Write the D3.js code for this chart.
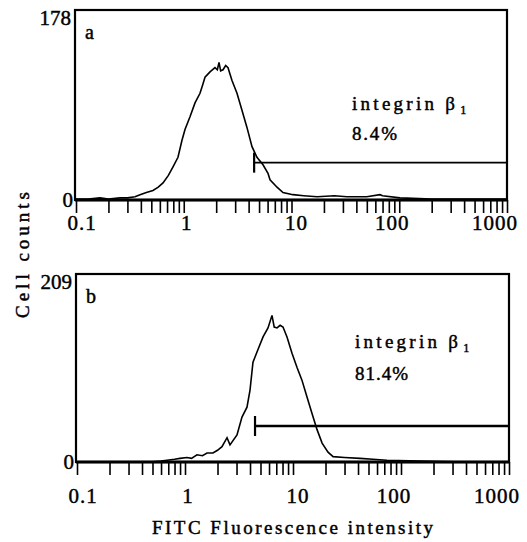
<!DOCTYPE html>
<html>
<head>
<meta charset="utf-8">
<script src="https://cdn.jsdelivr.net/npm/d3@7"></script>
<style>
  body { margin: 0; background: #fff; }
  svg { display: block; }
  text { fill: #000; stroke: #000; stroke-width: 0.45px; }
</style>
</head>
<body>
<svg id="chart"></svg>
<script>
// fluorescence intensity (log) and cell counts, panel a
const fluorA = [0.1, 0.13, 0.167, 0.2, 0.256, 0.3, 0.353, 0.393, 0.45, 0.518, 0.58, 0.642, 0.72, 0.795, 0.884, 0.963,
  1.027, 1.143, 1.272, 1.415, 1.5, 1.575, 1.752, 1.95, 2.05, 2.124, 2.2, 2.314, 2.45, 2.575, 2.804, 3.12, 3.47,
  3.86, 4.3, 4.78, 5.44, 6.05, 6.32, 7.34, 8.34, 10.3, 13, 17.3, 25, 32.7, 50, 66.2, 70, 101.6, 200, 296, 600, 1000];
const countA = [1, 1, 2, 1, 2, 2, 3, 5, 7, 9, 12, 16, 23, 31, 40, 56,
  66, 78, 91, 100, 108, 115, 120, 124, 122, 129, 121, 122, 126, 124, 112, 100, 84,
  68, 50, 40, 33, 25, 19, 12, 7, 5, 4, 3, 4, 3, 3, 5, 4, 2, 1, 1, 1, 1];

// panel b
const fluorB = [0.1, 0.474, 0.6, 0.681, 0.8, 0.899, 1.043, 1.15, 1.29, 1.45, 1.6, 1.815, 2.0, 2.2, 2.45, 2.61, 3.03, 3.37,
  3.75, 4.0, 4.26, 4.74, 5.28, 5.87, 6.39, 6.7, 7.11, 7.6, 8.08, 8.8, 9.79, 10.9, 12.1, 13.5, 15.0, 16.7,
  18.6, 21.1, 23.5, 30, 41.7, 55, 74.1, 150, 400, 1000];
const countB = [0, 0, 1, 2, 3, 4, 5, 4, 8, 7, 10, 10, 13, 17, 27, 19, 30, 50,
  61, 80, 111, 125, 139, 149, 163, 150, 149, 152, 150, 139, 121, 105, 91, 72, 54, 36,
  21, 11, 6, 5, 4, 3, 2, 1, 0, 0];

const panels = ['a', 'b'];
const yMax = [178, 209];
const positive = ['8.4%', '81.4%'];
const gateStart = [4.5, 4.45];
const gateLevel = [35, 40];
const gateEnd = 1000;

const xTicks = [0.1, 1, 10, 100, 1000];
const xTickLabels = ['0.1', '1', '10', '100', '1000'];

const W = 527, H = 542;
const svg = d3.select('#chart').attr('width', W).attr('height', H);

const boxes = [
  { left: 76, right: 507, top: 10, bottom: 200, labelY: 230 },
  { left: 77, right: 509, top: 274, bottom: 462, labelY: 503 }
];
const series = [
  fluorA.map((f, i) => ({ f, c: countA[i] })),
  fluorB.map((f, i) => ({ f, c: countB[i] }))
];
const labelShift = [6, 3, 5, -7, -12];
const serif = '"Liberation Serif", "DejaVu Serif", serif';

panels.forEach((name, p) => {
  const b = boxes[p];
  const x = d3.scaleLog().domain([0.1, 1000]).range([b.left, b.right]);
  const y = d3.scaleLinear().domain([0, yMax[p]]).range([b.bottom, b.top]);
  const g = svg.append('g');

  // minor + major ticks, all the same length
  const allTicks = [];
  for (let d = 0.1; d < 1000; d *= 10) {
    for (let k = 1; k < 10; k++) allTicks.push(+(d * k).toPrecision(3));
  }
  allTicks.push(1000);
  g.append('g')
    .attr('transform', `translate(0,${b.bottom})`)
    .call(d3.axisBottom(x).tickValues(allTicks).tickFormat('').tickSize(13).tickSizeOuter(0))
    .call(a => a.select('.domain').remove())
    .call(a => a.selectAll('line').attr('stroke', '#000').attr('stroke-width', 1.6));

  g.selectAll('.xl')
    .data(xTicks)
    .enter()
    .append('text')
    .attr('x', (d, i) => x(d) + labelShift[i])
    .attr('y', b.labelY)
    .attr('text-anchor', 'middle')
    .style('font-family', serif)
    .style('font-size', '21px')
    .style('letter-spacing', '1px')
    .text((d, i) => xTickLabels[i]);

  // y labels: max at top, 0 at bottom
  g.append('text')
    .attr('x', b.left - 5).attr('y', b.top + 15)
    .attr('text-anchor', 'end')
    .style('font-family', serif).style('font-size', '21px')
    .text(yMax[p]);
  g.append('text')
    .attr('x', b.left - 3).attr('y', b.bottom + 7)
    .attr('text-anchor', 'end')
    .style('font-family', serif).style('font-size', '21px')
    .text('0');

  // histogram
  const line = d3.line().x(d => x(d.f)).y(d => y(d.c));
  g.append('path')
    .datum(series[p])
    .attr('d', line)
    .attr('fill', 'none')
    .attr('stroke', '#000')
    .attr('stroke-width', 1.6);

  // marker gate
  const gx = x(gateStart[p]), gy = y(gateLevel[p]);
  g.append('line')
    .attr('x1', gx).attr('x2', x(gateEnd)).attr('y1', gy).attr('y2', gy)
    .attr('stroke', '#000').attr('stroke-width', p === 0 ? 1.8 : 2.6);
  g.append('line')
    .attr('x1', gx).attr('x2', gx).attr('y1', gy - 10).attr('y2', gy + 10)
    .attr('stroke', '#000').attr('stroke-width', 2.2);

  // frame
  g.append('rect')
    .attr('x', b.left - 1).attr('y', b.top)
    .attr('width', b.right - b.left + 1).attr('height', b.bottom - b.top)
    .attr('fill', 'none').attr('stroke', '#000').attr('stroke-width', 2.2);
  g.append('line')
    .attr('x1', b.left - 1).attr('x2', b.right).attr('y1', b.bottom).attr('y2', b.bottom)
    .attr('stroke', '#000').attr('stroke-width', 3.2);

  // panel letter
  g.append('text')
    .attr('x', b.left + 9).attr('y', b.top + 29)
    .style('font-family', serif).style('font-size', '20px')
    .text(name);

  // annotation
  const ax = p === 0 ? 352 : 355;
  const ann = g.append('text')
    .attr('x', ax).attr('y', p === 0 ? 110 : 348)
    .style('font-family', serif).style('font-size', '19px');
  ann.append('tspan').attr('textLength', 103).attr('lengthAdjust', 'spacing').text('integrin β');
  ann.append('tspan').attr('dx', 2).attr('dy', 4).style('font-size', '12px').text('1');
  g.append('text')
    .attr('x', ax).attr('y', p === 0 ? 140 : 380)
    .attr('textLength', p === 0 ? 45 : 53).attr('lengthAdjust', 'spacing')
    .style('font-family', serif).style('font-size', '19px')
    .text(positive[p]);
});

// axis titles
svg.append('text')
  .attr('transform', 'translate(29,255)rotate(-90)')
  .attr('text-anchor', 'middle')
  .attr('textLength', 126).attr('lengthAdjust', 'spacing')
  .style('font-family', serif).style('font-size', '19px')
  .text('Cell counts');

svg.append('text')
  .attr('x', 152).attr('y', 534)
  .attr('textLength', 281).attr('lengthAdjust', 'spacing')
  .style('font-family', serif).style('font-size', '19px')
  .text('FITC Fluorescence intensity');
</script>
</body>
</html>
